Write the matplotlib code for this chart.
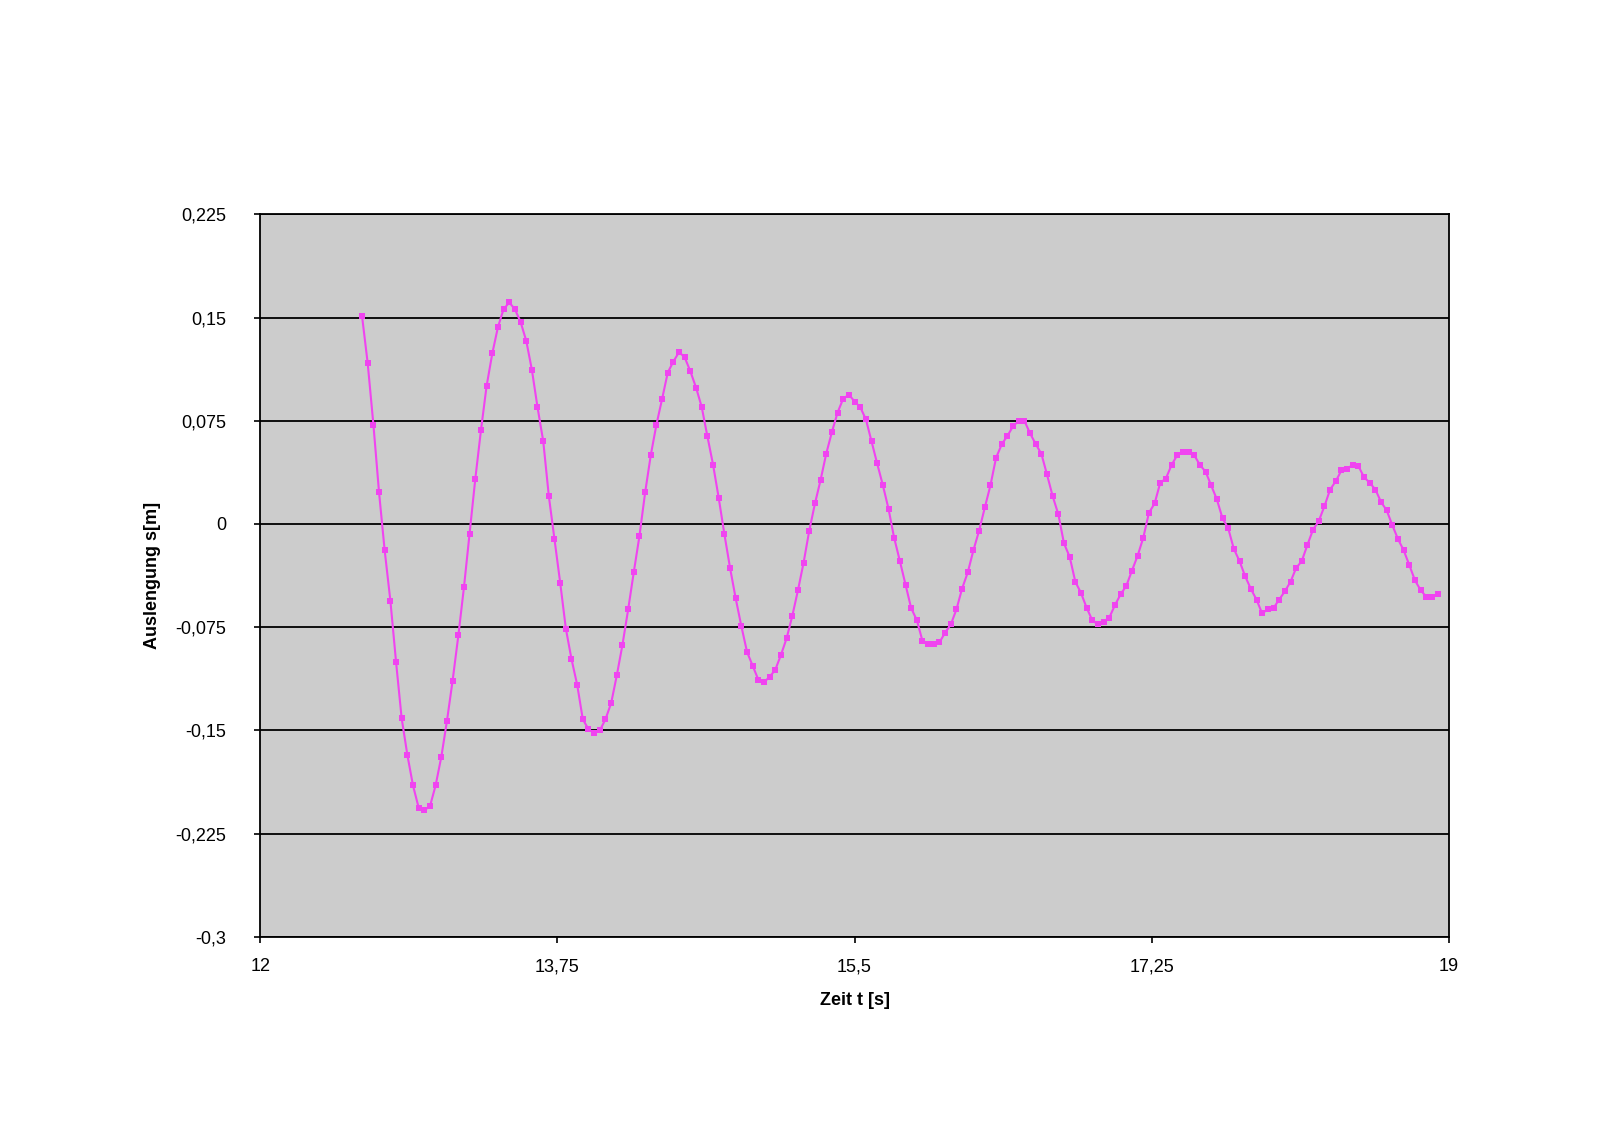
import matplotlib
matplotlib.use("Agg")
import matplotlib.pyplot as plt
from matplotlib.ticker import FuncFormatter

plt.rcParams['font.family'] = ['Liberation Sans', 'DejaVu Sans']

# Zeit t [s] (Messpunkte, ca. 30 pro Sekunde)
zeit = [
    12.600, 12.633, 12.667, 12.700, 12.733, 12.767, 12.800, 12.833, 12.867, 12.900,
    12.933, 12.967, 13.000, 13.033, 13.067, 13.100, 13.133, 13.167, 13.200, 13.233,
    13.267, 13.300, 13.333, 13.367, 13.400, 13.433, 13.467, 13.500, 13.533, 13.567,
    13.600, 13.633, 13.667, 13.700, 13.733, 13.767, 13.800, 13.833, 13.867, 13.900,
    13.933, 13.967, 14.000, 14.033, 14.067, 14.100, 14.133, 14.167, 14.200, 14.233,
    14.267, 14.300, 14.333, 14.367, 14.400, 14.433, 14.467, 14.500, 14.533, 14.567,
    14.600, 14.633, 14.667, 14.700, 14.733, 14.767, 14.800, 14.833, 14.867, 14.900,
    14.933, 14.967, 15.000, 15.033, 15.067, 15.100, 15.133, 15.167, 15.200, 15.233,
    15.267, 15.300, 15.333, 15.367, 15.400, 15.433, 15.467, 15.500, 15.533, 15.567,
    15.600, 15.633, 15.667, 15.700, 15.733, 15.767, 15.800, 15.833, 15.867, 15.900,
    15.933, 15.967, 16.000, 16.033, 16.067, 16.100, 16.133, 16.167, 16.200, 16.233,
    16.267, 16.300, 16.333, 16.367, 16.400, 16.433, 16.467, 16.500, 16.533, 16.567,
    16.600, 16.633, 16.667, 16.700, 16.733, 16.767, 16.800, 16.833, 16.867, 16.900,
    16.933, 16.967, 17.000, 17.033, 17.067, 17.100, 17.133, 17.167, 17.200, 17.233,
    17.267, 17.300, 17.333, 17.367, 17.400, 17.433, 17.467, 17.500, 17.533, 17.567,
    17.600, 17.633, 17.667, 17.700, 17.733, 17.767, 17.800, 17.833, 17.867, 17.900,
    17.933, 17.967, 18.000, 18.033, 18.067, 18.100, 18.133, 18.167, 18.200, 18.233,
    18.267, 18.300, 18.333, 18.367, 18.400, 18.433, 18.467, 18.500, 18.533, 18.567,
    18.600, 18.633, 18.667, 18.700, 18.733, 18.767, 18.800, 18.833, 18.867, 18.900,
    18.933,
]

# Auslenkung s [m]
auslenkung = [
    0.151, 0.117, 0.072, 0.023, -0.019, -0.056, -0.100, -0.141, -0.168, -0.190,
    -0.206, -0.208, -0.205, -0.190, -0.169, -0.143, -0.114, -0.081, -0.046, -0.007,
    0.033, 0.068, 0.100, 0.124, 0.143, 0.156, 0.161, 0.156, 0.147, 0.133,
    0.112, 0.085, 0.060, 0.020, -0.011, -0.043, -0.076, -0.098, -0.117, -0.142,
    -0.149, -0.152, -0.150, -0.142, -0.130, -0.110, -0.088, -0.062, -0.035, -0.009,
    0.023, 0.050, 0.072, 0.091, 0.110, 0.118, 0.125, 0.121, 0.111, 0.099,
    0.085, 0.064, 0.043, 0.019, -0.007, -0.032, -0.054, -0.074, -0.093, -0.103,
    -0.113, -0.115, -0.111, -0.106, -0.095, -0.083, -0.067, -0.048, -0.028, -0.005,
    0.015, 0.032, 0.051, 0.067, 0.081, 0.091, 0.094, 0.089, 0.085, 0.076,
    0.060, 0.044, 0.028, 0.011, -0.010, -0.027, -0.044, -0.061, -0.070, -0.085,
    -0.087, -0.087, -0.086, -0.079, -0.073, -0.062, -0.047, -0.035, -0.019, -0.005,
    0.012, 0.028, 0.048, 0.058, 0.064, 0.071, 0.075, 0.075, 0.066, 0.058,
    0.051, 0.036, 0.020, 0.007, -0.014, -0.024, -0.042, -0.050, -0.061, -0.070,
    -0.073, -0.071, -0.068, -0.059, -0.051, -0.045, -0.034, -0.023, -0.010, 0.008,
    0.015, 0.030, 0.033, 0.043, 0.050, 0.052, 0.052, 0.050, 0.043, 0.038,
    0.028, 0.018, 0.004, -0.003, -0.018, -0.027, -0.038, -0.047, -0.055, -0.065,
    -0.062, -0.061, -0.055, -0.049, -0.042, -0.032, -0.027, -0.015, -0.004, 0.002,
    0.013, 0.025, 0.031, 0.039, 0.040, 0.043, 0.042, 0.034, 0.030, 0.025,
    0.016, 0.010, -0.001, -0.011, -0.019, -0.030, -0.041, -0.048, -0.053, -0.053,
    -0.051,
]

x_ticks = [12, 13.75, 15.5, 17.25, 19]
y_ticks = [-0.3, -0.225, -0.15, -0.075, 0, 0.075, 0.15, 0.225]


def komma(v, pos):
    s = f"{v:.3f}".rstrip("0").rstrip(".")
    if s in ("-0", ""):
        s = "0"
    return s.replace(".", ",")


fig = plt.figure(figsize=(16, 11.48), dpi=100)
ax = fig.add_axes([0.1626, 0.1839, 0.7430, 0.6294])
ax.set_facecolor("#cccccc")

ax.plot(zeit, auslenkung, color="#f044f0", linewidth=1.5,
        marker="s", markersize=4.6, markeredgewidth=0, zorder=3)

ax.set_xlim(12, 19)
ax.set_ylim(-0.3, 0.225)
ax.set_xticks(x_ticks)
ax.set_yticks(y_ticks)
ax.xaxis.set_major_formatter(FuncFormatter(komma))
ax.yaxis.set_major_formatter(FuncFormatter(komma))
ax.yaxis.grid(True, color="black", linewidth=1.3)
ax.set_axisbelow(True)

for sp in ax.spines.values():
    sp.set_color("black")
    sp.set_linewidth(1.3)

ax.tick_params(axis="both", direction="out", length=4.5, width=1.2,
               labelsize=13)
ax.tick_params(axis="y", pad=20)
ax.tick_params(axis="x", pad=11)

ax.set_xlabel("Zeit t [s]", fontsize=13, fontweight="bold", labelpad=12)
ax.set_ylabel("Auslengung s[m]", fontsize=13, fontweight="bold", labelpad=10)

plt.savefig("out.png", dpi=100)
plt.close()
